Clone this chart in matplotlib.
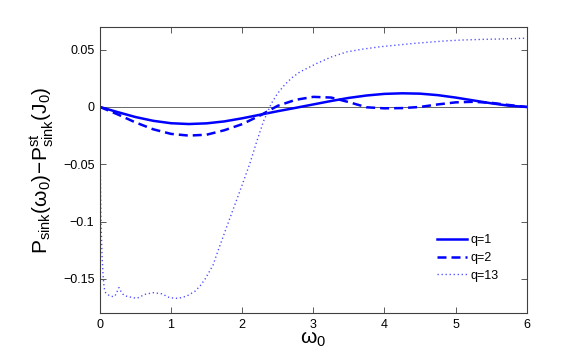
import numpy as np
import matplotlib
matplotlib.use("Agg")
import matplotlib.pyplot as plt

plt.rcParams["font.family"] = ["Liberation Sans", "DejaVu Sans"]
plt.rcParams["mathtext.fontset"] = "custom"
plt.rcParams["mathtext.rm"] = "Liberation Sans"
plt.rcParams["mathtext.it"] = "Liberation Sans"

# q=1 (solid)
x_q1 = [0.0, 0.25, 0.5, 0.75, 1.0, 1.25, 1.5, 1.75, 2.0, 2.25, 2.5, 2.75,
        3.0, 3.25, 3.5, 3.75, 4.0, 4.25, 4.5, 4.75, 5.0, 5.25, 5.5, 5.75, 6.0]
y_q1 = [0.0, -0.0045, -0.0088, -0.0121, -0.0142, -0.0149, -0.0143, -0.0126,
        -0.0099, -0.0068, -0.0037, -0.0008, 0.0022, 0.0052, 0.0079, 0.0100,
        0.0114, 0.0119, 0.0116, 0.0103, 0.0082, 0.0057, 0.0032, 0.0011, 0.0]

# q=2 (dashed)
x_q2 = [0.0, 0.25, 0.5, 0.75, 1.0, 1.25, 1.5, 1.75, 2.0, 2.25, 2.5, 2.75,
        3.0, 3.25, 3.5, 3.75, 4.0, 4.25, 4.5, 4.75, 5.0, 5.25, 5.5, 5.75, 6.0]
y_q2 = [0.0, -0.0065, -0.0135, -0.0195, -0.0235, -0.0250, -0.0242, -0.0203,
        -0.0150, -0.0075, 0.0010, 0.0062, 0.0088, 0.0082, 0.0042, -0.0003,
        -0.0012, -0.0010, 0.0000, 0.0022, 0.0040, 0.0045, 0.0036, 0.0017, 0.0]

# q=13 (dotted)
x_q13 = [0.0, 0.005, 0.015, 0.03, 0.045, 0.06, 0.08, 0.14, 0.2, 0.23, 0.26,
         0.27, 0.28, 0.3, 0.34, 0.4, 0.52, 0.63, 0.75, 0.87, 0.98, 1.1, 1.22,
         1.34, 1.41, 1.48, 1.59, 1.64, 1.78, 1.875, 2.0, 2.11, 2.2, 2.3, 2.41,
         2.5, 2.6, 2.7, 2.81, 3.05, 3.25, 3.47, 3.7, 3.94, 4.2, 4.41, 4.65,
         4.88, 5.1, 5.35, 5.7, 6.0]
y_q13 = [0.0, -0.05, -0.10, -0.13, -0.148, -0.158, -0.162, -0.165, -0.1655,
         -0.163, -0.158, -0.1577, -0.159, -0.1615, -0.1645, -0.1655, -0.167,
         -0.1635, -0.162, -0.163, -0.1664, -0.167, -0.165, -0.1606, -0.156,
         -0.150, -0.138, -0.129, -0.105, -0.089, -0.068, -0.049, -0.031,
         -0.0125, 0.0030, 0.0120, 0.0195, 0.0255, 0.0305, 0.038, 0.0435, 0.048,
         0.0505, 0.0525, 0.0541, 0.0554, 0.0566, 0.0577, 0.0584, 0.0589,
         0.0594, 0.0600]

fig = plt.figure(figsize=(5.81, 3.57), dpi=100)
ax = fig.add_axes([0.172, 0.1224, 0.7345, 0.8028])

ax.axhline(0, color="0.4", linewidth=0.7, zorder=1)
ax.plot(x_q1, y_q1, color="#0000ff", linewidth=1.8, label="q=1")
ax.plot(x_q2, y_q2, color="#0000ff", linewidth=1.8, linestyle=(0, (3.6, 2.0)), label="q=2")
ax.plot(x_q13, y_q13, color="#4a4aff", linewidth=1.0, linestyle=(0, (0.9, 2.0)), label="q=13")

ax.set_xlim(0, 6)
ax.set_ylim(-0.18, 0.07)
ax.set_xticks([0, 1, 2, 3, 4, 5, 6])
ax.set_yticks([-0.15, -0.1, -0.05, 0, 0.05])
ax.set_yticklabels(["\u22120.15", "\u22120.1", "\u22120.05", "0", "0.05"])
ax.tick_params(direction="in", length=4, width=0.6, top=True, right=True,
               labelsize=9, colors="0.25", labelcolor="black", pad=4)
for s in ax.spines.values():
    s.set_color("0.25")
    s.set_linewidth(0.8)

ax.set_xlabel(r"$\omega_0$", fontsize=15, labelpad=-1)
ax.set_ylabel(r"$\mathrm{P_{sink}(\omega_0)\!-\!P^{st}_{sink}(J_0)}$", fontsize=15, labelpad=6)

ax.legend(loc="upper left", bbox_to_anchor=(0.79, 0.275), frameon=False,
          fontsize=9, handlelength=2.4, handletextpad=0.3, borderpad=0,
          borderaxespad=0, labelspacing=0.45)

fig.savefig("out.png", dpi=100)
